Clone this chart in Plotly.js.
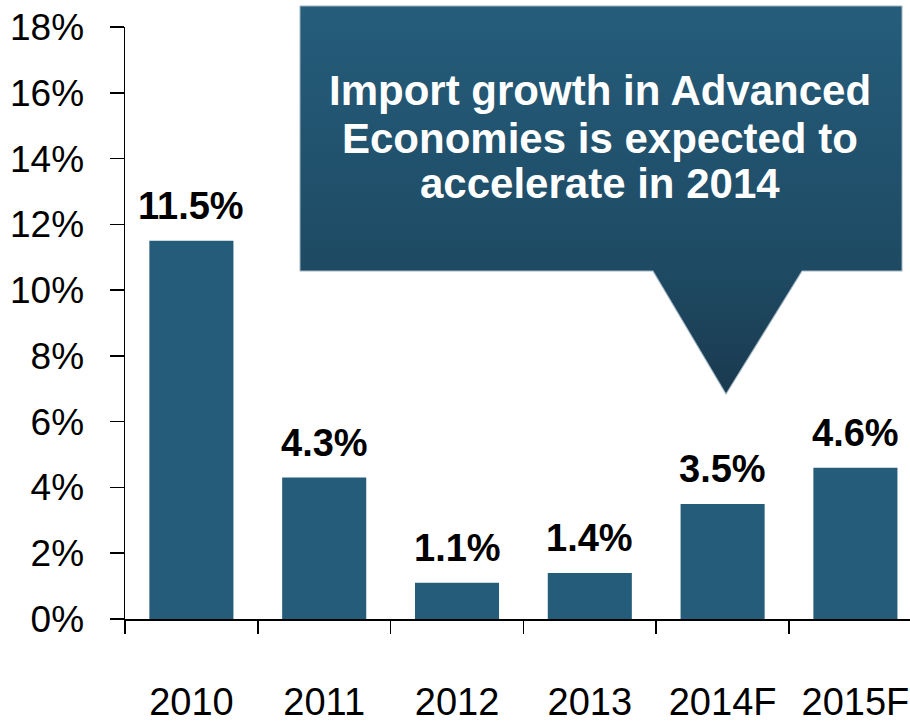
<!DOCTYPE html>
<html>
<head>
<meta charset="utf-8">
<script src="https://cdn.plot.ly/plotly-3.0.1.min.js"></script>
<style>html,body{margin:0;padding:0;background:#fff;}#chart{width:910px;height:727px;}</style>
</head>
<body>
<div id="chart"></div>
<script>
// Data
var categories = ["2010", "2011", "2012", "2013", "2014F", "2015F"];
var growth = [11.5, 4.3, 1.1, 1.4, 3.5, 4.6];
var valueLabels = ["11.5%", "4.3%", "1.1%", "1.4%", "3.5%", "4.6%"];
var yTickValues = [0, 2, 4, 6, 8, 10, 12, 14, 16, 18];
var yTickLabels = ["0%", "2%", "4%", "6%", "8%", "10%", "12%", "14%", "16%", "18%"];
var calloutLines = ["Import growth in Advanced", "Economies is expected to", "accelerate in 2014"];

var FONT = "Arial, 'Liberation Sans', sans-serif";
var BAR = "#245C7A";

var svg = '<svg xmlns="http://www.w3.org/2000/svg" width="604" height="390" viewBox="0 0 604 390">' +
  '<defs><linearGradient id="g" x1="0" y1="0" x2="0" y2="1">' +
  '<stop offset="0" stop-color="#255D7B"/><stop offset="0.68" stop-color="#1E4A63"/><stop offset="1" stop-color="#1A3A4F"/>' +
  '</linearGradient></defs>' +
  '<path d="M1,1 H603 V266 H503 L427,389 L354,266 H1 Z" fill="url(#g)" stroke="#9FB4C2" stroke-width="1"/>' +
  '</svg>';
var svgUri = 'data:image/svg+xml;charset=utf-8,' + encodeURIComponent(svg);

var trace = {
  type: 'bar',
  x: categories,
  y: growth,
  width: 0.633,
  marker: {color: BAR, line: {width: 0}},
  hoverinfo: 'none'
};

var annotations = categories.map(function (c, i) {
  return {
    x: i, y: growth[i], xref: 'x', yref: 'y',
    text: '<b>' + valueLabels[i] + '</b>',
    showarrow: false, yanchor: 'bottom', xanchor: 'center', yshift: 12,
    font: {family: FONT, size: 38, color: '#000'}
  };
});
var lineY = [0.8919, 0.8117, 0.7348];
calloutLines.forEach(function (t, i) {
  annotations.push({
    x: 0.605, y: lineY[i], xref: 'paper', yref: 'paper',
    text: '<b>' + t + '</b>', showarrow: false,
    xanchor: 'center', yanchor: 'middle',
    font: {family: FONT, size: 42, color: '#fff'}
  });
});

var layout = {
  width: 910, height: 727,
  margin: {l: 125, r: 0, t: 27, b: 108, pad: 0},
  paper_bgcolor: '#fff', plot_bgcolor: '#fff',
  showlegend: false,
  xaxis: {
    type: 'category',
    range: [-0.5, 5.411],
    showgrid: false, zeroline: false,
    showline: true, linecolor: '#000', linewidth: 1.5,
    ticks: 'outside', ticklen: 13, tickwidth: 1.5, tickcolor: '#000',
    tickson: 'boundaries',
    ticklabelstandoff: 49,
    tickfont: {family: FONT, size: 38, color: '#000'},
    fixedrange: true
  },
  yaxis: {
    range: [0, 18],
    tickvals: yTickValues, ticktext: yTickLabels,
    showgrid: false, zeroline: false,
    showline: true, linecolor: '#000', linewidth: 1.5,
    ticks: 'outside', ticklen: 14, tickwidth: 1.5, tickcolor: '#000',
    ticklabelstandoff: 18,
    tickfont: {family: FONT, size: 37, color: '#000'},
    fixedrange: true
  },
  images: [{
    source: svgUri, xref: 'paper', yref: 'paper',
    x: 0.22166, y: 1.03716, sizex: 0.76943, sizey: 0.65878,
    xanchor: 'left', yanchor: 'top', sizing: 'stretch', layer: 'above'
  }],
  annotations: annotations
};

Plotly.newPlot('chart', [trace], layout, {displayModeBar: false, staticPlot: true});
</script>
</body>
</html>
